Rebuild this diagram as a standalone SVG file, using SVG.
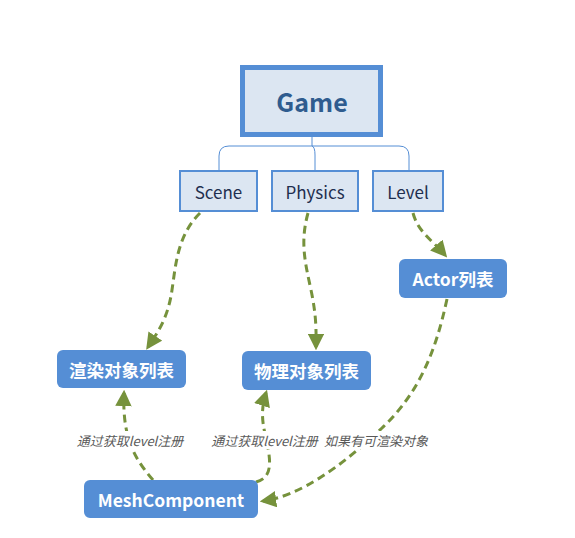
<svg xmlns="http://www.w3.org/2000/svg" width="575" height="538" viewBox="0 0 575 538">
<defs>
<style>
.t{font-family:"Noto Sans CJK SC","Noto Sans",sans-serif}
.light{fill:#dce6f2;stroke:#558ed5}
.lt{font-size:17px;fill:#1f2f4f;text-anchor:middle;dominant-baseline:central}
.blue{fill:#558ed5}
.bt{font-size:17.5px;font-weight:bold;fill:#ffffff;text-anchor:middle;dominant-baseline:central}
.tree{fill:none;stroke:#558ed5;stroke-width:1}
.edge{fill:none;stroke:#76923c;stroke-width:3;stroke-dasharray:8 5;marker-end:url(#arr)}
.lbl{font-size:13px;font-style:italic;fill:#595959;text-anchor:middle;dominant-baseline:central}
</style>
<marker id="arr" viewBox="0 0 10 10" refX="8" refY="5" markerWidth="5.5" markerHeight="5.5" orient="auto" markerUnits="strokeWidth">
<path d="M0,0 L10,5 L0,10 Z" fill="#76923c"/>
</marker>
</defs>
<rect width="575" height="538" fill="#ffffff"/>
<g id="tree" class="tree">
<path d="M312,137 V146"/>
<path d="M219,170 V156 Q219,146 229,146 H399 Q409,146 409,156 V170"/>
<path d="M312,146 Q315,147 315,155 V170"/>
</g>
<g id="game">
<rect x="242.5" y="67.5" width="138" height="67" class="light" stroke-width="5"/>
<text x="312" y="101" class="t" font-size="25" font-weight="bold" fill="#2f5c8f" text-anchor="middle" dominant-baseline="central">Game</text>
</g>
<g id="scene">
<rect x="180" y="171" width="77" height="40" class="light" stroke-width="2"/>
<text x="218.5" y="191" class="t lt">Scene</text>
</g>
<g id="physics">
<rect x="272" y="171" width="86" height="40" class="light" stroke-width="2"/>
<text x="315" y="191" class="t lt">Physics</text>
</g>
<g id="level">
<rect x="373" y="171" width="70" height="40" class="light" stroke-width="2"/>
<text x="408" y="191" class="t lt">Level</text>
</g>
<g id="connectors">
<path class="edge" d="M200,213 C178,235 176,262 172,290 C168,318 158,332 148,347"/>
<path class="edge" d="M308,213 C300,242 305,262 311,290 C317,318 316,334 316,347"/>
<path class="edge" d="M413,213 C418,232 432,240 445,255"/>
<path class="edge" d="M447,299 C436,350 420,392 382,428 C342,466 300,496 263,501"/>
<path class="edge" d="M153,480 C136,460 122,440 124,393"/>
<path class="edge" d="M256,482 C271,478 271,465 268,448 C264,428 259,415 266,393"/>
</g>
<g id="actor">
<rect x="399" y="259" width="108" height="39" rx="6" class="blue"/>
<text x="453" y="278.5" class="t bt">Actor列表</text>
</g>
<g id="render">
<rect x="57" y="350" width="129" height="38" rx="6" class="blue"/>
<text x="121.5" y="369" class="t bt">渲染对象列表</text>
</g>
<g id="phys-list">
<rect x="242" y="351" width="129" height="39" rx="6" class="blue"/>
<text x="306.5" y="370.5" class="t bt">物理对象列表</text>
</g>
<g id="mesh">
<rect x="84" y="480" width="174" height="38" rx="6" class="blue"/>
<text x="171" y="499" class="t bt">MeshComponent</text>
</g>
<g id="labels">
<rect x="77" y="431" width="107" height="18" fill="#ffffff"/>
<text x="130" y="440" class="t lbl">通过获取level注册</text>
<rect x="211" y="431" width="107" height="18" fill="#ffffff"/>
<text x="264.5" y="440" class="t lbl">通过获取level注册</text>
<rect x="323" y="431" width="106" height="18" fill="#ffffff"/>
<text x="376" y="440" class="t lbl">如果有可渲染对象</text>
</g>
</svg>
